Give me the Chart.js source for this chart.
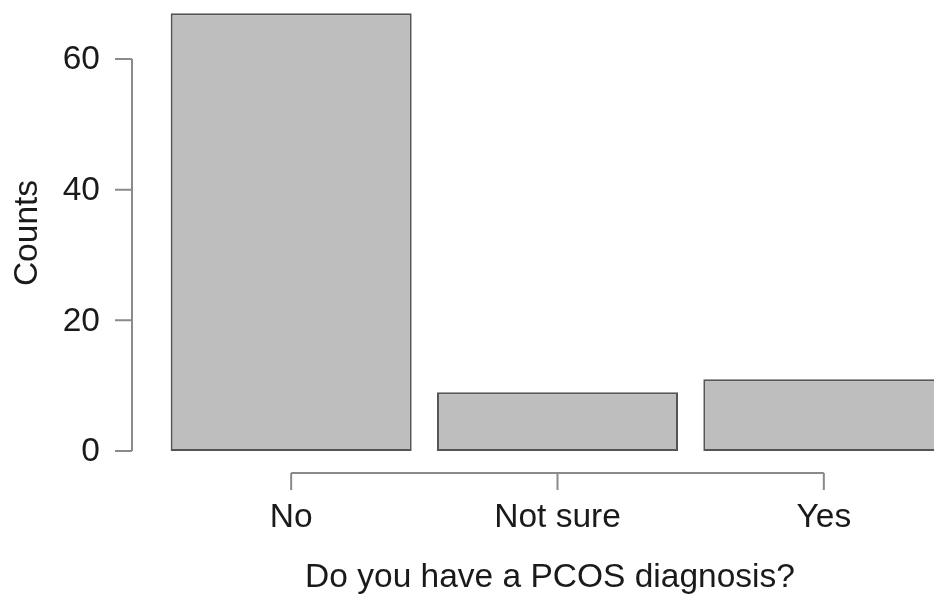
<!DOCTYPE html>
<html>
<head>
<meta charset="utf-8">
<script src="https://cdn.jsdelivr.net/npm/chart.js@4/dist/chart.umd.min.js"></script>
<style>
  html, body { margin: 0; padding: 0; background: #fff; overflow: hidden; }
  #wrap { width: 934px; height: 595px; overflow: hidden; }
</style>
</head>
<body>
<div id="wrap"><canvas id="c" width="960" height="595"></canvas></div>
<script>
// Dados ----------------------------------------------------------------------
const categories = ["No", "Not sure", "Yes"];
const counts = [67, 9, 11];
const yTicks = [0, 20, 40, 60];
const yTitle = "Counts";
const xTitle = "Do you have a PCOS diagnosis?";

const FONT = "33.5px 'Liberation Sans', Arial, sans-serif";
const AXIS = "#8a8a8a";

// Eixos no estilo R (linha só entre o primeiro e o último tick)
const rAxes = {
  id: "rAxes",
  afterDraw(chart) {
    const { ctx, scales: { x, y }, chartArea } = chart;
    ctx.save();
    ctx.strokeStyle = AXIS;
    ctx.lineWidth = 2;
    ctx.fillStyle = "#1a1a1a";
    ctx.font = FONT;

    // eixo y
    const ax = chartArea.left - 26;
    const y0 = y.getPixelForValue(yTicks[0]);
    const y1 = y.getPixelForValue(yTicks[yTicks.length - 1]);
    ctx.beginPath();
    ctx.moveTo(ax, y0); ctx.lineTo(ax, y1);
    yTicks.forEach(v => {
      const py = y.getPixelForValue(v);
      ctx.moveTo(ax, py); ctx.lineTo(ax - 17, py);
    });
    ctx.stroke();
    ctx.textAlign = "right";
    ctx.textBaseline = "middle";
    yTicks.forEach(v => ctx.fillText(String(v), ax - 32, y.getPixelForValue(v) + 1));

    // eixo x
    const ay = y0 + 22;
    const xa = x.getPixelForValue(0);
    const xb = x.getPixelForValue(categories.length - 1);
    ctx.beginPath();
    ctx.moveTo(xa, ay); ctx.lineTo(xb, ay);
    categories.forEach((c, i) => {
      const px = x.getPixelForValue(i);
      ctx.moveTo(px, ay); ctx.lineTo(px, ay + 17);
    });
    ctx.stroke();
    ctx.textAlign = "center";
    ctx.textBaseline = "alphabetic";
    categories.forEach((c, i) => ctx.fillText(c, x.getPixelForValue(i), 527));

    // títulos
    ctx.fillText(xTitle, 550, 587);
    ctx.translate(37, 233);
    ctx.rotate(-Math.PI / 2);
    ctx.textBaseline = "alphabetic";
    ctx.fillText(yTitle, 0, 0);
    ctx.restore();
  }
};

new Chart(document.getElementById("c").getContext("2d"), {
  type: "bar",
  data: {
    labels: categories,
    datasets: [{
      data: counts,
      backgroundColor: "#bebebe",
      borderColor: "#555555",
      borderWidth: 2,
      borderSkipped: false,
      categoryPercentage: 1,
      barPercentage: 0.905
    }]
  },
  options: {
    responsive: false,
    animation: false,
    devicePixelRatio: 1,
    layout: { padding: { left: 158, right: 3, top: 6.7, bottom: 144 } },
    plugins: { legend: { display: false }, tooltip: { enabled: false } },
    scales: {
      x: { display: false, offset: true },
      y: { display: false, min: 0, max: 68 }
    }
  },
  plugins: [rAxes]
});
</script>
</body>
</html>
